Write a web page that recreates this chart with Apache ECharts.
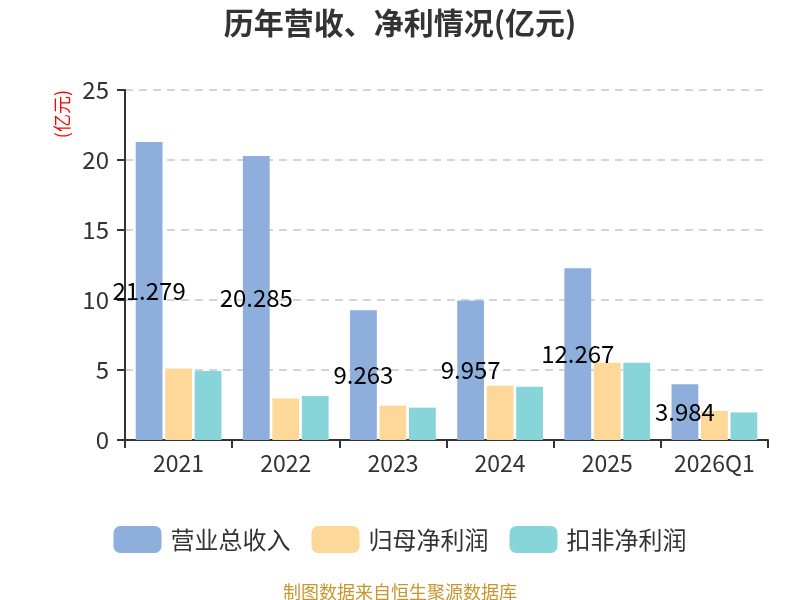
<!DOCTYPE html>
<html>
<head>
<meta charset="utf-8">
<script src="https://cdn.jsdelivr.net/npm/echarts@6/dist/echarts.min.js"></script>
<style>
  html, body { margin: 0; padding: 0; background: #ffffff; }
  #chart { width: 800px; height: 600px; }
</style>
</head>
<body>
<div id="chart"></div>
<script>
// data
const categories = ['2021', '2022', '2023', '2024', '2025', '2026Q1'];
const revenue = [21.279, 20.285, 9.263, 9.957, 12.267, 3.984];
const netProfit = [5.10, 2.96, 2.45, 3.87, 5.51, 2.07];
const deductedProfit = [4.93, 3.15, 2.31, 3.80, 5.52, 1.97];
const seriesNames = ['营业总收入', '归母净利润', '扣非净利润'];
const colors = ['#8eaedb', '#fed898', '#87d5d9'];

const font = '"Noto Sans CJK SC", "Noto Sans", sans-serif';
const chart = echarts.init(document.getElementById('chart'), null, { renderer: 'canvas' });

chart.setOption({
  backgroundColor: '#ffffff',
  textStyle: { fontFamily: font },
  title: [{
    text: '历年营收、净利情况(亿元)',
    left: 'center',
    top: 3,
    textStyle: { fontSize: 30, fontWeight: 'bold', color: '#333333', fontFamily: font }
  }, {
    text: '制图数据来自恒生聚源数据库',
    left: 'center',
    top: 578,
    textStyle: { fontSize: 18, fontWeight: 'normal', color: '#c8962e', fontFamily: font }
  }],
  legend: {
    top: 521,
    left: 'center',
    itemWidth: 48,
    itemHeight: 27,
    itemGap: 21,
    icon: 'roundRect',
    textStyle: { fontSize: 24, color: '#333333', fontFamily: font, padding: [0, 0, 0, 4] }
  },
  grid: { left: 125, right: 32, top: 90, bottom: 160 },
  xAxis: {
    type: 'category',
    data: categories,
    axisLine: { lineStyle: { color: '#333333', width: 2 } },
    axisTick: { show: true, interval: 0, alignWithLabel: false, length: 8, lineStyle: { color: '#333333', width: 2 } },
    axisLabel: { interval: 0, fontSize: 23, color: '#333333', margin: 12 }
  },
  yAxis: {
    type: 'value',
    min: 0,
    max: 25,
    interval: 5,
    name: '(亿元)',
    nameLocation: 'end',
    nameRotate: 90,
    nameGap: 0,
    nameTextStyle: { color: '#ff0000', fontSize: 18, align: 'right', verticalAlign: 'bottom', padding: [0, 0, 54, 0] },
    axisLine: { show: true, lineStyle: { color: '#333333', width: 2 } },
    axisTick: { show: true, length: 8, lineStyle: { color: '#333333', width: 2 } },
    axisLabel: { fontSize: 24, color: '#333333', margin: 16 },
    splitLine: { lineStyle: { type: [8, 6], color: '#c8c8c8', width: 1.5 } }
  },
  series: [{
    name: seriesNames[0],
    type: 'bar',
    data: revenue,
    barGap: '10%',
    barCategoryGap: '20%',
    itemStyle: { color: colors[0] },
    label: { show: true, position: 'inside', color: '#000000', fontSize: 24 }
  }, {
    name: seriesNames[1],
    type: 'bar',
    data: netProfit,
    itemStyle: { color: colors[1] }
  }, {
    name: seriesNames[2],
    type: 'bar',
    data: deductedProfit,
    itemStyle: { color: colors[2] }
  }]
});
</script>
</body>
</html>
